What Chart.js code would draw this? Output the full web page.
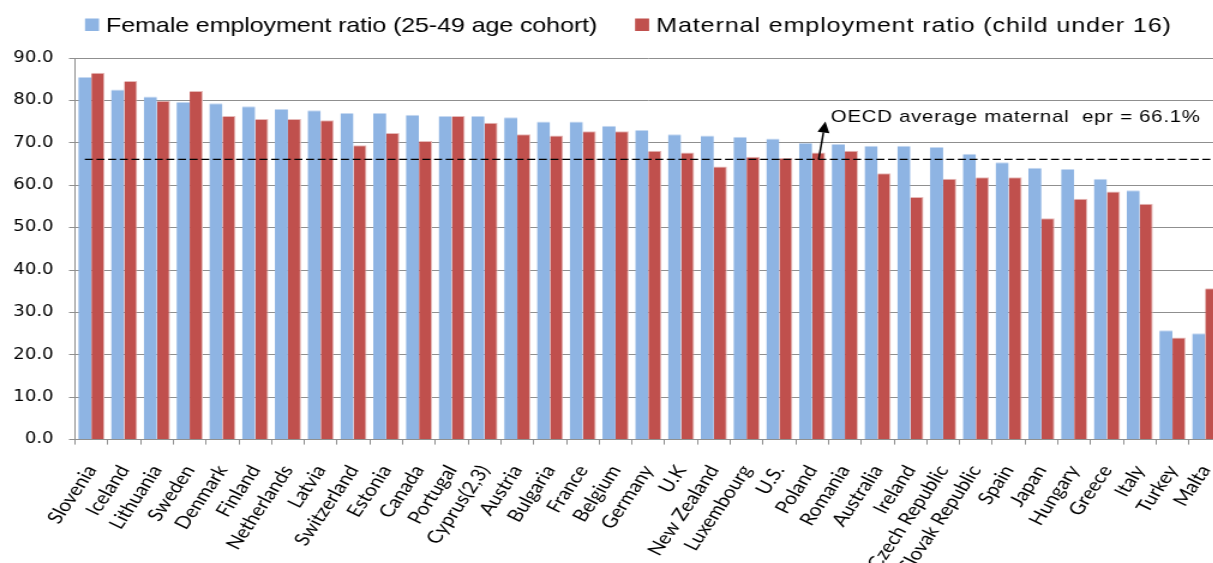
<!DOCTYPE html>
<html>
<head>
<meta charset="utf-8">
<script src="https://cdn.jsdelivr.net/npm/chart.js@4.4.1/dist/chart.umd.min.js"></script>
<style>
  html, body { margin: 0; padding: 0; overflow: hidden; background: #fff; }
  #wrap { width: 1213px; height: 563px; overflow: hidden; }
  /* the chart is drawn on a narrower canvas and widened, giving the stretched type */
  #chart { display: block; transform: scaleX(1.2); transform-origin: 0 0; }
</style>
</head>
<body>
<div id="wrap"><canvas id="chart" width="1018" height="563"></canvas></div>
<script>
const countries = [
  'Slovenia', 'Iceland', 'Lithuania', 'Sweden', 'Denmark', 'Finland', 'Netherlands',
  'Latvia', 'Switzerland', 'Estonia', 'Canada', 'Portugal', 'Cyprus(2,3)', 'Austria',
  'Bulgaria', 'France', 'Belgium', 'Germany', 'U.K', 'New Zealand', 'Luxembourg', 'U.S.',
  'Poland', 'Romania', 'Australia', 'Ireland', 'Czech Republic', 'Slovak Republic', 'Spain',
  'Japan', 'Hungary', 'Greece', 'Italy', 'Turkey', 'Malta'
];

// employment ratio of women aged 25-49, %
const femaleRatio = [
  85.5, 82.6, 80.9, 79.6, 79.3, 78.6, 78.0, 77.7, 77.0, 77.0, 76.6, 76.3, 76.3, 76.0,
  75.0, 75.0, 74.0, 73.0, 72.0, 71.7, 71.4, 71.0, 70.0, 69.7, 69.3, 69.3, 69.0, 67.4,
  65.4, 64.1, 63.8, 61.5, 58.8, 25.8, 25.1
];

// employment ratio of mothers with a child under 16, %
const maternalRatio = [
  86.5, 84.6, 79.9, 82.2, 76.3, 75.6, 75.6, 75.3, 69.4, 72.3, 70.4, 76.3, 74.7, 72.0,
  71.7, 72.7, 72.7, 68.1, 67.7, 64.4, 66.7, 66.4, 67.7, 68.1, 62.8, 57.2, 61.5, 61.9,
  61.9, 52.2, 56.8, 58.5, 55.6, 24.1, 35.7
];

const seriesNames = [
  'Female employment ratio (25-49 age cohort)',
  'Maternal employment ratio (child under 16)'
];
const seriesColors = ['#8EB4E3', '#C0504D'];
const seriesEdges = ['#C6D9F1', '#E6B9B8'];

const yTickValues = [0, 10, 20, 30, 40, 50, 60, 70, 80, 90];

const oecdAverage = 66.1;
const oecdNote = 'OECD average maternal  epr = ' + oecdAverage + '%';
const noteCountry = 'Poland';
const noteLevel = 75;

const ink = '#000000';
const gridGray = '#8F8F8F';

// legend across the top, square swatch + label per series
const topLegend = {
  id: 'topLegend',
  afterDraw(chart) {
    const ctx = chart.ctx;
    const slots = [
      { box: 70.8, text: 88.3, spacing: '-0.15px' },
      { box: 529.2, text: 546.7, spacing: '0.7px' }
    ];
    ctx.save();
    ctx.font = '21px "Liberation Sans", Arial, sans-serif';
    ctx.textBaseline = 'alphabetic';
    chart.data.datasets.forEach((ds, i) => {
      ctx.fillStyle = ds.backgroundColor;
      ctx.fillRect(slots[i].box, 18.5, 11.7, 12.5);
      ctx.fillStyle = ink;
      ctx.letterSpacing = slots[i].spacing;
      ctx.fillText(ds.label, slots[i].text, 31.5);
    });
    ctx.restore();
  }
};

// dashed OECD average line with its arrow and note
const oecdMarker = {
  id: 'oecdMarker',
  afterDatasetsDraw(chart) {
    const { ctx, chartArea, scales: { x, y } } = chart;
    const cat = x.getPixelForValue(1) - x.getPixelForValue(0);
    const barW = cat * 0.4;
    const ly = y.getPixelForValue(oecdAverage);

    ctx.save();
    ctx.strokeStyle = ink;
    ctx.lineWidth = 1.3;
    ctx.setLineDash([6.7, 3]);
    ctx.beginPath();
    ctx.moveTo(x.getPixelForValue(0) - barW / 2, ly);
    ctx.lineTo(chartArea.right, ly);
    ctx.stroke();
    ctx.setLineDash([]);

    const idx = countries.indexOf(noteCountry);
    const cx = x.getPixelForValue(idx);
    const sx = cx + barW / 2;
    const tx = sx + 5.6;
    const ty = y.getPixelForValue(noteLevel);
    const ang = Math.atan2(ty - ly, tx - sx);
    const headLen = 11, headHalf = 5;
    const bx = tx - headLen * Math.cos(ang), by = ty - headLen * Math.sin(ang);
    ctx.lineWidth = 1.5;
    ctx.beginPath();
    ctx.moveTo(sx, ly);
    ctx.lineTo(bx, by);
    ctx.stroke();
    ctx.fillStyle = ink;
    ctx.beginPath();
    ctx.moveTo(tx, ty);
    ctx.lineTo(bx - headHalf * Math.sin(ang), by + headHalf * Math.cos(ang));
    ctx.lineTo(bx + headHalf * Math.sin(ang), by - headHalf * Math.cos(ang));
    ctx.closePath();
    ctx.fill();

    ctx.font = '17px "Liberation Sans", Arial, sans-serif';
    ctx.letterSpacing = '0.6px';
    ctx.textBaseline = 'alphabetic';
    ctx.fillText(oecdNote, cx + 15.6, ty);
    ctx.restore();
  }
};

new Chart(document.getElementById('chart'), {
  type: 'bar',
  data: {
    labels: countries,
    datasets: [
      {
        label: seriesNames[0],
        data: femaleRatio,
        backgroundColor: seriesColors[0],
        borderColor: seriesEdges[0],
        borderWidth: { top: 1, right: 0, bottom: 0, left: 0 },
        borderSkipped: 'bottom'
      },
      {
        label: seriesNames[1],
        data: maternalRatio,
        backgroundColor: seriesColors[1],
        borderColor: seriesEdges[1],
        borderWidth: { top: 1, right: 1, bottom: 0, left: 0 },
        borderSkipped: 'bottom'
      }
    ]
  },
  options: {
    responsive: false,
    animation: false,
    devicePixelRatio: 1,
    layout: { padding: { top: 58, left: 0, right: 0, bottom: 0 } },
    datasets: { bar: { categoryPercentage: 0.8, barPercentage: 1.0 } },
    plugins: {
      legend: { display: false },
      tooltip: { enabled: false }
    },
    scales: {
      x: {
        grid: { display: true, drawOnChartArea: false, drawTicks: true, tickLength: 5, color: gridGray, offset: true },
        border: { display: true, color: gridGray, width: 1 },
        ticks: {
          autoSkip: false,
          minRotation: 60,
          maxRotation: 60,
          padding: 17,
          color: ink,
          font: { family: 'Lato, "Open Sans", sans-serif', size: 17.5 }
        },
        afterFit(s) { s.height = 123.4; s.paddingLeft = 0; s.paddingRight = 0; }
      },
      y: {
        min: 0,
        max: 90,
        afterBuildTicks(s) { s.ticks = yTickValues.map(v => ({ value: v })); },
        grid: { color: gridGray, lineWidth: 1, drawTicks: true, tickLength: 5 },
        border: { display: true, color: gridGray, width: 1 },
        ticks: {
          padding: 13,
          color: ink,
          font: { family: '"DejaVu Sans", Verdana, sans-serif', size: 15 },
          callback: v => Number(v).toFixed(1)
        },
        afterFit(s) { s.width = 62.5; }
      }
    }
  },
  plugins: [oecdMarker, topLegend]
});
</script>
</body>
</html>
